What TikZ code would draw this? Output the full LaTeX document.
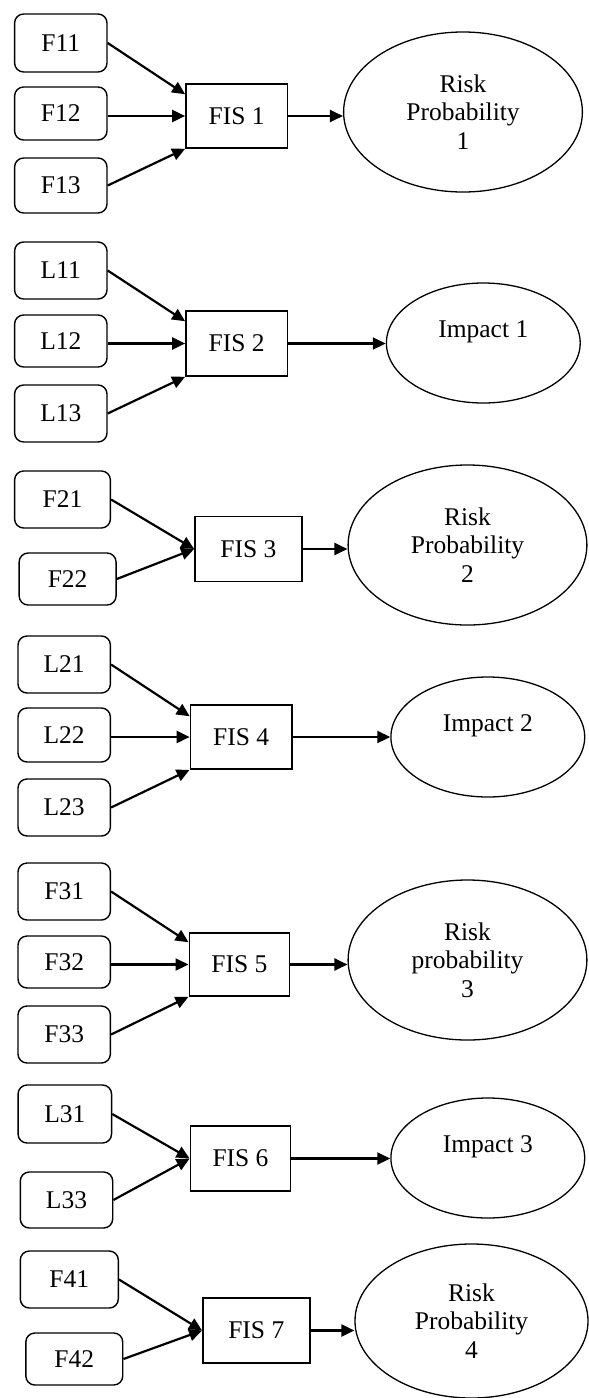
\documentclass[tikz,border=0pt]{standalone}
\usepackage{fontspec}
\setmainfont{Liberation Serif}
\usetikzlibrary{arrows.meta,shapes.geometric}
\begin{document}
\begin{tikzpicture}[x=1pt,y=-1pt,
  font=\fontsize{25.5}{28.5}\selectfont,
  inbox/.style 2 args={draw, line width=1.4pt, rounded corners=9pt,
    minimum width=#1, minimum height=#2, inner sep=0pt},
  fis/.style 2 args={draw, line width=1.5pt,
    minimum width=#1, minimum height=#2, inner sep=0pt},
  outcome/.style 2 args={draw, ellipse, line width=1.3pt,
    minimum width=#1, minimum height=#2, inner sep=0pt, align=center},
  link/.style={line width=2.2pt, -{Triangle[length=13pt,width=12pt]}}
]
\useasboundingbox (0,0) rectangle (589,1398);

% ---- FIS 1 : risk probability 1
\node[inbox={92.4pt}{58pt}] (F11) at (60.8,43) {F11};
\node[inbox={92.4pt}{53pt}] (F12) at (60.8,113.5) {F12};
\node[inbox={92.4pt}{55pt}] (F13) at (60.8,185.5) {F13};
\node[fis={101.4pt}{64pt}] (FIS1) at (236.6,116) {FIS 1};
\node[outcome={238.8pt}{160pt}] (E1) at (463,112) {Risk\\Probability\\1};
\draw[link] (F11.east) -- ([yshift=-11pt]FIS1.north west);
\draw[link] (F12.east |- FIS1.west) -- (FIS1.west);
\draw[link] (F13.east) -- (FIS1.south west);
\draw[link] (FIS1.east) -- (FIS1.east -| E1.west);

% ---- FIS 2 : impact 1
\node[inbox={92.4pt}{57pt}] (L11) at (60.8,270.5) {L11};
\node[inbox={92.4pt}{52pt}] (L12) at (60.8,341) {L12};
\node[inbox={92.4pt}{57pt}] (L13) at (60.8,413.5) {L13};
\node[fis={101.4pt}{65pt}] (FIS2) at (236.6,343.5) {FIS 2};
\node[outcome={193.8pt}{120pt}] (E2) at (483.3,343) {Impact 1\\\mbox{}};
\draw[link] (L11.east) -- ([yshift=-11pt]FIS2.north west);
\draw[link] (L12.east |- FIS2.west) -- (FIS2.west);
\draw[link] (L13.east) -- (FIS2.south west);
\draw[link] (FIS2.east) -- (FIS2.east -| E2.west);

% ---- FIS 3 : risk probability 2
\node[inbox={95.8pt}{57pt}] (F21) at (62.5,499.5) {F21};
\node[inbox={96.9pt}{52pt}] (F22) at (67.6,579) {F22};
\node[fis={107pt}{65pt}] (FIS3) at (248.4,549) {FIS 3};
\node[outcome={238.8pt}{160pt}] (E3) at (467.5,545) {Risk\\Probability\\2};
\draw[link] (F21.east) -- (FIS3.west);
\draw[link] (F22.east) -- (FIS3.west);
\draw[link] (FIS3.east) -- (FIS3.east -| E3.west);

% ---- FIS 4 : impact 2
\node[inbox={92.4pt}{57pt}] (L21) at (64.2,664.5) {L21};
\node[inbox={92.4pt}{54pt}] (L22) at (64.2,735) {L22};
\node[inbox={92.4pt}{57pt}] (L23) at (64.2,807.5) {L23};
\node[fis={101.4pt}{64pt}] (FIS4) at (241.1,737) {FIS 4};
\node[outcome={193.8pt}{120pt}] (E4) at (487.8,737) {Impact 2\\\mbox{}};
\draw[link] (L21.east) -- ([yshift=-12pt]FIS4.north west);
\draw[link] (L22.east |- FIS4.west) -- (FIS4.west);
\draw[link] (L23.east) -- (FIS4.south west);
\draw[link] (FIS4.east) -- (FIS4.east -| E4.west);

% ---- FIS 5 : risk probability 3
\node[inbox={92.4pt}{57pt}] (F31) at (64.2,891.5) {F31};
\node[inbox={92.4pt}{52pt}] (F32) at (64.2,962) {F32};
\node[inbox={92.4pt}{57pt}] (F33) at (64.2,1034.5) {F33};
\node[fis={100.3pt}{63pt}] (FIS5) at (239.4,964.5) {FIS 5};
\node[outcome={238.8pt}{160pt}] (E5) at (467.5,960) {Risk\\probability\\3};
\draw[link] (F31.east) -- ([yshift=-10pt]FIS5.north west);
\draw[link] (F32.east |- FIS5.west) -- (FIS5.west);
\draw[link] (F33.east) -- (FIS5.south west);
\draw[link] (FIS5.east) -- (FIS5.east -| E5.west);

% ---- FIS 6 : impact 3
\node[inbox={93.5pt}{58pt}] (L31) at (64.8,1114) {L31};
\node[inbox={92.4pt}{56pt}] (L33) at (66.5,1200) {L33};
\node[fis={100.3pt}{65pt}] (FIS6) at (240.5,1158.5) {FIS 6};
\node[outcome={193.8pt}{120pt}] (E6) at (487.8,1158) {Impact 3\\\mbox{}};
\draw[link] (L31.east) -- (FIS6.west);
\draw[link] (L33.east) -- (FIS6.west);
\draw[link] (FIS6.east) -- (FIS6.east -| E6.west);

% ---- FIS 7 : risk probability 4
\node[inbox={98pt}{57pt}] (F41) at (69.3,1279.5) {F41};
\node[inbox={96.9pt}{52pt}] (F42) at (74.3,1359) {F42};
\node[fis={107pt}{65pt}] (FIS7) at (256.3,1330.5) {FIS 7};
\node[outcome={233pt}{154pt}] (E7) at (471.5,1321) {Risk\\Probability\\4};
\draw[link] (F41.east) -- (FIS7.west);
\draw[link] (F42.east) -- (FIS7.west);
\draw[link] (FIS7.east) -- (FIS7.east -| E7.west);
\end{tikzpicture}
\end{document}
